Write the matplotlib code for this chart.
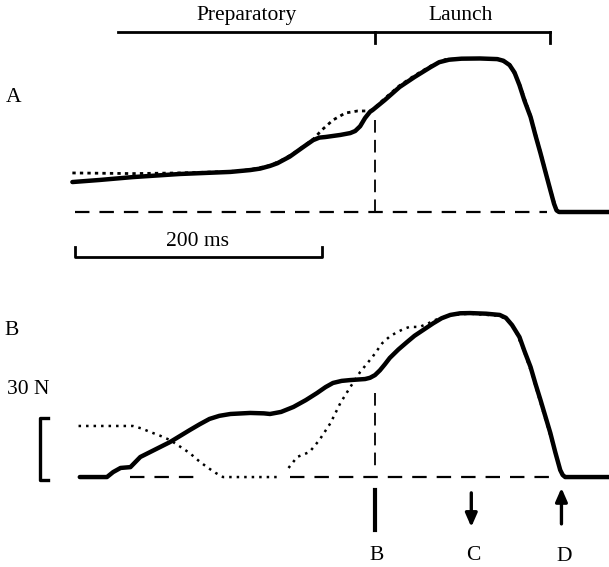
import numpy as np
import matplotlib
matplotlib.use("Agg")
import matplotlib.pyplot as plt

plt.rcParams['font.family'] = ['Liberation Serif', 'DejaVu Serif']

# time in ms (0 = onset of launch), force in N
# panel A
a_t = [-245, -223, -196, -158, -117, -101, -93, -85, -79, -74, -69, -65, -61, -57, -50, -45,
       -40, -28, -20, -16, -12, -8, -4, -2, 8, 20, 32, 45, 52, 60, 70, 85, 99, 104, 109,
       113, 117, 121, 126, 130, 134, 138, 142, 145, 147, 149, 190]
a_solid = [14.5, 15.5, 16.9, 18.4, 19.4, 20.3, 21.0, 22.3, 23.6, 25.2, 26.8, 28.5, 30.2, 31.9, 34.8, 36.0,
           36.3, 37.3, 38.2, 39.2, 41.5, 45.5, 48.5, 49.3, 54.2, 60.5, 65.3, 70.1, 72.5, 73.7, 74.2, 74.3, 74, 73.2, 71.1,
           67.5, 61.4, 54, 46, 37, 28.5, 19.5, 10.6, 4, 0.8, 0, 0]
a_dot_t = [-245, -196, -158, -117, -101, -85, -74, -65, -57, -50, -43, -34, -24, -14,
           -4, 0, 8, 20, 32, 45, 57, 77, 99, 109, 117, 126, 134, 142, 147]
a_dot = [18.9, 18.6, 18.9, 19.6, 20.5, 22.5, 25.5, 28.8, 32.2, 35.2, 39.7, 44.5, 47.9, 48.9,
         48.9, 50.5, 55.0, 61.2, 66.0, 70.6, 73.8, 74.3, 74.2, 71.5, 62.0, 46.5, 29.0, 11.0, 0.8]

# panel B
b_t = [-239, -217, -212, -206, -198, -190, -182, -166, -158, -150, -142, -134, -126, -117,
       -101, -90, -85, -76, -66, -56, -47, -40, -34, -27, -20, -8, -4, 0, 4, 8, 12, 19, 26,
       32, 39, 47, 54, 61, 69, 77, 90, 101, 106, 111, 117, 121, 126, 130, 134, 138, 142,
       146, 150, 152, 154, 190]
b_solid = [0, 0, 2.4, 4.4, 4.8, 9.7, 12.1, 16.9, 19.8, 22.7, 25.5, 28.1, 29.6, 30.5,
           31, 30.8, 30.5, 31.5, 33.9, 37.2, 40.6, 43.5, 45.5, 46.5, 46.9, 47.4, 48, 49.3, 51.6, 54.5, 57.6, 61.7, 65.3,
           68.3, 71.1, 74.3, 76.8, 78.4, 79.2, 79.3, 79, 78.4, 77, 73.5, 67.7, 61, 53.2, 45, 37.3, 29.3, 21.3,
           12, 3.4, 1, 0, 0]
b_dot_t = [-240, -196, -189, -182, -174, -166, -158, -150, -143, -136, -129, -123, -77, np.nan,
           -70, -63, -53, -45, -36, -28, -20, -12, -2, 6, 12, 18, 24, 28, 36, 42, 49, 61, 77,
           101, 107, 113, 120, 127, 135, 143, 150]
b_dot = [24.7, 24.7, 23.5, 21.8, 20.0, 17.9, 14.8, 11.6, 8.0, 4.8, 2.0, 0, 0, np.nan,
         4.4, 9.7, 12.1, 17.9, 26.1, 35.8, 43.5, 50.8, 58.1, 64.8, 68, 70.1, 71.8, 72.6, 72.6, 74, 76, 78.4, 79,
         78, 76, 72, 62, 50, 34, 18, 3]

a_base = (-243, 139)
b_base_segments = [(-198, -142), (-69, 144)]

phase_start, launch_start, launch_end = -208, 0, 142
marker_c, marker_d = 78, 151
scale_ms, scale_n = 200, 30

fig = plt.figure(figsize=(6.09, 5.67), dpi=100)
axA = fig.add_axes([0, 0.5, 1, 0.5])
axB = fig.add_axes([0, 0, 1, 0.5])
axA.set_xlim(-303.6, 189.5)
axA.set_ylim(-34.6, 102.6)
axB.set_xlim(-303.6, 189.5)
axB.set_ylim(-43.5, 93.6)
for ax in (axA, axB):
    ax.set_axis_off()

dash = dict(color='black', lw=1.6, dashes=(6.5, 4.5))
vdash = dict(color='black', lw=1.3, dashes=(7, 4))
fs = 15.5

# ---- panel A
axA.plot(a_base, [0, 0], **dash)
axA.plot([launch_start, launch_start], [44.5, 0], **vdash)
axA.plot(a_dot_t, a_dot, color='black', lw=2.0, ls=(0, (1.2, 1.5)))
axA.plot(a_t, a_solid, color='black', lw=3.2, solid_capstyle='round', solid_joinstyle='round')

# phase bracket
yb, yt = 87.1, 81.8
axA.plot([phase_start, launch_end], [yb, yb], color='black', lw=2)
axA.plot([launch_start, launch_start], [yb, yt], color='black', lw=2)
axA.plot([launch_end, launch_end], [yb, yt], color='black', lw=2)
axA.text(-104, 95.3, 'Preparatory', ha='center', va='center', fontsize=fs)
axA.text(69, 95.3, 'Launch', ha='center', va='center', fontsize=fs)
axA.text(-293, 55.6, 'A', ha='center', va='center', fontsize=fs)

# time scale bar
axA.plot([-243, -243, -243 + scale_ms, -243 + scale_ms], [-16.9, -21.8, -21.8, -16.9],
         color='black', lw=2)
axA.text(-243 + scale_ms / 2 - 1, -14.5, '200 ms', ha='center', va='center', fontsize=fs)

# ---- panel B
for seg in b_base_segments:
    axB.plot(seg, [0, 0], **dash)
axB.plot([launch_start, launch_start], [40.6, 3.4], **vdash)
axB.plot(b_dot_t, b_dot, color='black', lw=1.8, ls=(0, (1, 2)))
axB.plot(b_t, b_solid, color='black', lw=3.2, solid_capstyle='round', solid_joinstyle='round')

axB.text(-294, 71.1, 'B', ha='center', va='center', fontsize=fs)
axB.text(-281, 42.1, '30 N', ha='center', va='center', fontsize=fs)
bb = -1.5
axB.plot([-265, -271, -271, -265], [bb, bb, bb + scale_n, bb + scale_n], color='black', lw=2.4)

# event markers
axB.plot([launch_start, launch_start], [-6.3, -25.6], color='black', lw=3)
axB.annotate('', xy=(marker_c, -25.5), xytext=(marker_c, -6.3),
             arrowprops=dict(arrowstyle='-|>,head_width=0.35,head_length=0.8', color='black', lw=2.4))
axB.annotate('', xy=(marker_d, -3.9), xytext=(marker_d, -24),
             arrowprops=dict(arrowstyle='-|>,head_width=0.35,head_length=0.8', color='black', lw=2.4))
axB.text(launch_start + 1, -37.7, 'B', ha='center', va='center', fontsize=fs)
axB.text(marker_c + 2, -37.7, 'C', ha='center', va='center', fontsize=fs)
axB.text(marker_d + 2, -38.5, 'D', ha='center', va='center', fontsize=fs)

fig.savefig('out.png', dpi=100)
